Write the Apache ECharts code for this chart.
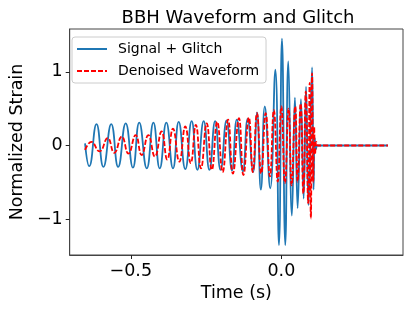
<!DOCTYPE html>
<html><head><meta charset="utf-8">
<script src="https://cdn.jsdelivr.net/npm/echarts@6/dist/echarts.min.js"></script>
<style>html,body{margin:0;padding:0;background:#fff}#c{width:415px;height:311px}</style>
</head><body><div id="c"></div>
<script>
// Signal + Glitch: peaks / troughs (time in s, normalized strain)
const blueTime = [-0.652,-0.638,-0.614,-0.591,-0.565,-0.542,-0.517,-0.493,-0.472,-0.447,
  -0.425,-0.404,-0.382,-0.360,-0.341,-0.319,-0.298,-0.279,-0.258,-0.239,
  -0.220,-0.202,-0.182,-0.164,-0.148,-0.128,-0.112,-0.094,-0.081,-0.068,
  -0.055,-0.037,-0.020,-0.008,0.002,0.013,0.023,0.035,0.045,0.054,
  0.065,0.074,0.082,0.090,0.102,0.107,0.111,0.115,0.120,0.354];
const blueStrain = [0.03,-0.28,0.29,-0.29,0.29,-0.29,0.30,-0.30,0.31,-0.31,
  0.31,-0.31,0.31,-0.31,0.32,-0.32,0.33,-0.33,0.33,-0.33,
  0.33,-0.33,0.34,-0.34,0.35,-0.35,0.36,-0.36,0.45,-0.60,
  0.53,-0.58,1.03,-1.35,1.45,-1.35,1.14,-0.95,0.65,-0.85,
  0.63,-0.72,0.80,-0.81,1.06,-0.60,0.10,-0.05,0.0,0.0];
// Denoised Waveform
const redTime = [-0.652,-0.631,-0.604,-0.577,-0.555,-0.530,-0.508,-0.484,-0.464,-0.442,
  -0.420,-0.398,-0.379,-0.360,-0.339,-0.319,-0.301,-0.284,-0.267,-0.248,
  -0.231,-0.213,-0.195,-0.177,-0.161,-0.141,-0.126,-0.108,-0.095,-0.081,
  -0.067,-0.052,-0.038,-0.025,-0.012,0.000,0.012,0.024,0.034,0.046,
  0.054,0.064,0.073,0.081,0.089,0.094,0.098,0.102,0.106,0.109,
  0.112,0.116,0.121,0.354];
const redStrain = [-0.06,0.05,-0.08,0.10,-0.10,0.12,-0.11,0.14,-0.13,0.14,
  -0.15,0.19,-0.19,0.23,-0.22,0.26,-0.24,0.28,-0.31,0.30,
  -0.33,0.32,-0.36,0.35,-0.38,0.37,-0.40,0.38,-0.36,0.44,
  -0.38,0.44,-0.42,0.48,-0.49,0.53,-0.51,0.50,-0.54,0.53,
  -0.49,0.57,-0.65,0.73,-0.78,0.85,-0.99,0.98,-0.50,0.25,
  -0.12,0.05,0.0,0.0];
const xTicks = [-0.5, 0.0];
const yTicks = [-1, 0, 1];
const seriesNames = ['Signal + Glitch', 'Denoised Waveform'];

const zip = (a, b) => a.map((v, i) => [v, b[i]]);
const minus = s => s.replace('-', '\u2212');
const FONT = 'DejaVu Sans';

const chart = echarts.init(document.getElementById('c'), null, {renderer: 'canvas'});
chart.setOption({
  animation: false,
  backgroundColor: '#fff',
  title: {
    text: 'BBH Waveform and Glitch',
    left: 233, top: 4, textAlign: 'center',
    textStyle: {fontFamily: FONT, fontSize: 18, fontWeight: 'normal', color: '#000'}
  },
  legend: {
    left: 72, top: 37, orient: 'vertical',
    itemWidth: 30, itemHeight: 14, itemGap: 8,
    padding: [5, 7, 5, 4],
    backgroundColor: 'rgba(255,255,255,0.85)',
    borderColor: '#ccc', borderWidth: 1, borderRadius: 3,
    itemStyle: {opacity: 0, borderWidth: 0},
    textStyle: {fontFamily: FONT, fontSize: 14, color: '#000', padding: [0, 0, 0, 6]},
    data: seriesNames
  },
  grid: {left: 64, right: 12, top: 29, bottom: 56, show: true, borderColor: '#444', borderWidth: 1},
  xAxis: {
    type: 'value', min: -0.703, max: 0.404,
    name: 'Time (s)', nameLocation: 'middle', nameGap: 24,
    nameTextStyle: {fontFamily: FONT, fontSize: 17.5, color: '#000'},
    axisLine: {show: true, onZero: false, lineStyle: {color: '#444', width: 1}},
    axisTick: {show: true, inside: false, length: 4, customValues: xTicks, lineStyle: {color: '#222'}},
    axisLabel: {customValues: xTicks, margin: 7, fontFamily: FONT, fontSize: 17.5, color: '#000',
      formatter: v => minus(v.toFixed(1))},
    splitLine: {show: false}
  },
  yAxis: {
    type: 'value', min: -1.486, max: 1.581,
    name: 'Normalized Strain', nameLocation: 'middle', nameGap: 37,
    nameTextStyle: {fontFamily: FONT, fontSize: 17.5, color: '#000'},
    axisLine: {show: true, onZero: false, lineStyle: {color: '#444', width: 1}},
    axisTick: {show: true, inside: false, length: 4, customValues: yTicks, lineStyle: {color: '#222'}},
    axisLabel: {customValues: yTicks, margin: 7, fontFamily: FONT, fontSize: 17.5, color: '#000',
      formatter: v => minus(v.toFixed(0))},
    splitLine: {show: false}
  },
  series: [
    {name: seriesNames[0], type: 'line', data: zip(blueTime, blueStrain), smooth: 0.5,
     showSymbol: false, symbol: 'none', lineStyle: {color: '#1f77b4', width: 1.8}, itemStyle: {color: '#1f77b4'}},
    {name: seriesNames[1], type: 'line', data: zip(redTime, redStrain), smooth: 0.5,
     showSymbol: false, symbol: 'none', lineStyle: {color: '#ff0000', width: 1.8, type: [5, 2]}, itemStyle: {color: '#ff0000'}}
  ]
});
</script></body></html>
